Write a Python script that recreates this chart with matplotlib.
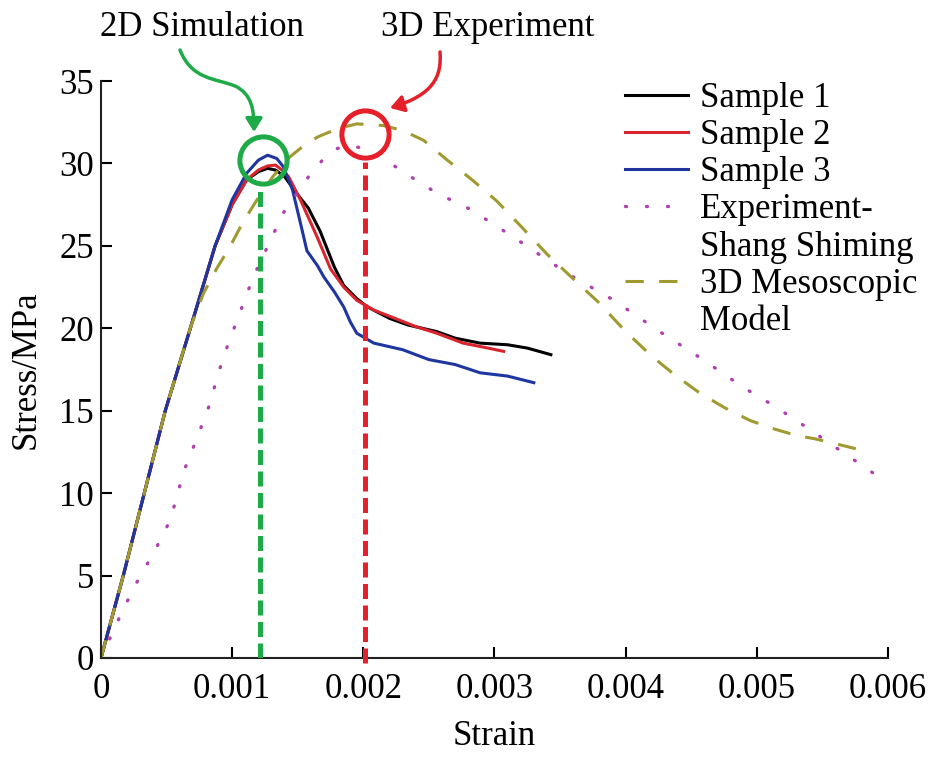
import numpy as np
import matplotlib
matplotlib.use("Agg")
import matplotlib.pyplot as plt
from matplotlib.lines import Line2D
from matplotlib.path import Path
from matplotlib.patches import FancyArrowPatch

plt.rcParams['font.family'] = ['Liberation Serif', 'DejaVu Serif']
FS = 25

# Sample 1 (black)
s1_x = [0, 0.00017, 0.00049, 0.0007, 0.00087, 0.001, 0.00111, 0.0012, 0.00127, 0.00133,
        0.0014, 0.00148, 0.00158, 0.00167, 0.00172, 0.00178, 0.00185, 0.00195, 0.00203, 0.0022,
        0.00234, 0.00256, 0.0027, 0.00289, 0.0031, 0.00325, 0.00343]
s1_y = [0, 5, 15, 20.5, 25, 27.5, 29, 29.5, 29.7, 29.6,
        29.2, 28.3, 27.3, 25.9, 24.9, 23.7, 22.6, 21.8, 21.3, 20.6,
        20.2, 19.8, 19.4, 19.1, 19.0, 18.8, 18.4]

# Sample 2 (red)
s2_x = [0, 0.00017, 0.00049, 0.0007, 0.00087, 0.001, 0.00111, 0.0012, 0.00127, 0.00133,
        0.00138, 0.00143, 0.00152, 0.00165, 0.00175, 0.00185, 0.00195, 0.00208, 0.00221, 0.0024,
        0.00256, 0.00276, 0.00295, 0.00307]
s2_y = [0, 5, 15, 20.5, 25, 27.5, 29, 29.6, 29.85, 29.9,
        29.6, 29.2, 27.8, 25.5, 23.6, 22.5, 21.7, 21.1, 20.7, 20.1,
        19.7, 19.1, 18.8, 18.6]

# Sample 3 (blue)
s3_x = [0, 0.00017, 0.00049, 0.0007, 0.00087, 0.001, 0.00111, 0.0012, 0.00127, 0.00134,
        0.00139, 0.00146, 0.00152, 0.00157, 0.00165, 0.0017, 0.00178, 0.00185, 0.0019, 0.00195,
        0.00208, 0.0023, 0.0025, 0.0027, 0.00289, 0.0031, 0.0033]
s3_y = [0, 5, 15, 20.5, 25, 27.8, 29.4, 30.2, 30.5, 30.3,
        29.8, 28.4, 26.4, 24.7, 23.8, 23.1, 22.2, 21.3, 20.4, 19.7,
        19.1, 18.7, 18.1, 17.8, 17.3, 17.1, 16.7]

# Experiment - Shang Shiming (dotted)
ex_x = [0, 0.00016, 0.00028, 0.00041, 0.00053, 0.00063, 0.00073, 0.00082, 0.00093, 0.00116,
        0.00139, 0.0016, 0.0017, 0.0018, 0.0019, 0.002, 0.00215, 0.00236, 0.00256, 0.00282,
        0.00315, 0.00356, 0.00391, 0.00424, 0.00457, 0.0049, 0.00513, 0.00534, 0.00567, 0.00589]
ex_y = [0, 2.8, 4.7, 6.5, 8.4, 11.3, 13.3, 15.2, 18.2, 23.1,
        27, 29.4, 30.3, 30.9, 31.1, 30.9, 30.3, 29.2, 28.2, 27.2,
        25.5, 23.3, 21.7, 19.9, 18.2, 16.4, 15.3, 14.2, 12.4, 11.2]

# 3D mesoscopic model (dashed)
md_x = [0, 0.00017, 0.00049, 0.00068, 0.00078, 0.00088, 0.00098, 0.00108, 0.00119, 0.00131,
        0.00144, 0.00155, 0.00165, 0.0018, 0.00195, 0.00215, 0.0023, 0.00246, 0.00264, 0.00283,
        0.00302, 0.0032, 0.0034, 0.0036, 0.00379, 0.004, 0.0042, 0.00437, 0.00456, 0.00475,
        0.00495, 0.00513, 0.0053, 0.00544, 0.00565, 0.00585]
md_y = [0, 5, 15, 20, 22.1, 23.6, 24.9, 26.4, 27.8, 29.2,
        30.4, 31.1, 31.6, 32.1, 32.4, 32.3, 32.0, 31.4, 30.2, 29.0,
        27.7, 26.2, 24.5, 23.0, 21.6, 19.8, 18.3, 17.2, 16.1, 15.2,
        14.4, 13.9, 13.5, 13.3, 12.9, 12.5]

# marked peaks: (line x, circle x, circle y)
sim_peak = (0.001214, 0.001237, 30.2)
exp_peak = (0.00201, 0.00201, 31.8)

fig = plt.figure(figsize=(9.33, 7.57), dpi=100)
ax = fig.add_axes([101 / 933, 1 - 658 / 757, 787 / 933, 577 / 757])

l1, = ax.plot(s1_x, s1_y, color='black', lw=2.2, label='Sample 1')
l2, = ax.plot(s2_x, s2_y, color='#d9252e', lw=2.2, label='Sample 2')
l3, = ax.plot(s3_x, s3_y, color='#1f35a0', lw=2.2, label='Sample 3')
l4, = ax.plot(ex_x, ex_y, color='#b040b0', lw=2.4, linestyle=(0, (0.3, 6)),
              dash_capstyle='round', label='Experiment-')
l5, = ax.plot(md_x, md_y, color='#a09a30', lw=2.2, linestyle=(0, (6, 5)), label='3D Mesoscopic')

# vertical markers and circles
ax.plot([sim_peak[0], sim_peak[0]], [0, 28.6], color='#1faa48', lw=3.6,
        linestyle=(0, (3, 1.3)), zorder=5)
ax.plot([exp_peak[0], exp_peak[0]], [-0.3, 30.1], color='#e5202a', lw=3.6,
        linestyle=(0, (3, 1.3)), zorder=5, clip_on=False)
ax.plot(sim_peak[1], sim_peak[2], 'o', ms=34, mfc='none', mec='#1faa48', mew=3.6, zorder=6)
ax.plot(exp_peak[1], exp_peak[2], 'o', ms=34, mfc='none', mec='#e5202a', mew=3.6, zorder=6)

ax.set_xlim(0, 0.006)
ax.set_ylim(0, 35)
ax.set_xticks([0, 0.001, 0.002, 0.003, 0.004, 0.005, 0.006])
ax.set_xticklabels(['0', '0.001', '0.002', '0.003', '0.004', '0.005', '0.006'])
ax.set_yticks(range(0, 36, 5))
ax.tick_params(direction='in', length=8, width=1.5, labelsize=FS, pad=11)
ax.tick_params(axis='y', pad=5)
for s in ['top', 'right']:
    ax.spines[s].set_visible(False)
for s in ['left', 'bottom']:
    ax.spines[s].set_linewidth(1.5)
    ax.spines[s].set_color('#222222')
ax.set_xlabel('Strain', fontsize=FS, labelpad=10)
ax.set_ylabel('Stress/MPa', fontsize=FS, labelpad=12)

blank = Line2D([], [], color='none')
handles = [l1, l2, l3, l4, blank, l5, blank]
labels = ['Sample 1', 'Sample 2', 'Sample 3', 'Experiment-', 'Shang Shiming',
          '3D Mesoscopic', 'Model']
fig.legend(handles, labels, loc='upper left', bbox_to_anchor=(625 / 933, 1 - 82 / 757),
           frameon=False, fontsize=FS, handlelength=1.8, handletextpad=0.35,
           labelspacing=0.12, borderpad=0, borderaxespad=0)

# titles with curved arrows
fig.text(202 / 933, 1 - 27 / 757, '2D Simulation', fontsize=FS, ha='center', va='center')
fig.text(488 / 933, 1 - 27 / 757, '3D Experiment', fontsize=FS, ha='center', va='center')


def px(x, y):
    return (x / 933, 1 - y / 757)


g_path = Path([px(180, 50), px(192, 80), px(215, 78), px(235, 86),
               px(252, 94), px(254, 110), px(254, 132)],
              [Path.MOVETO, Path.CURVE4, Path.CURVE4, Path.CURVE4,
               Path.CURVE4, Path.CURVE4, Path.CURVE4])
fig.patches.append(FancyArrowPatch(path=g_path, transform=fig.transFigure,
                                   arrowstyle='-|>,head_length=8,head_width=5',
                                   color='#1faa48', lw=2.5))
r_path = Path([px(440, 52), px(442, 78), px(432, 95), px(390, 108)],
              [Path.MOVETO, Path.CURVE4, Path.CURVE4, Path.CURVE4])
fig.patches.append(FancyArrowPatch(path=r_path, transform=fig.transFigure,
                                   arrowstyle='-|>,head_length=8,head_width=5',
                                   color='#e5202a', lw=2.5))

fig.savefig('out.png', dpi=100)
